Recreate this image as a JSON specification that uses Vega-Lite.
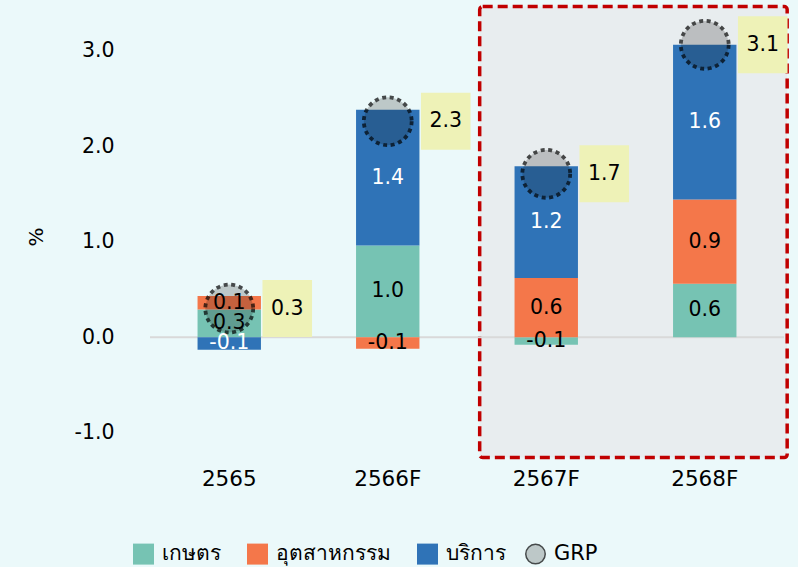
{
  "$schema": "https://vega.github.io/schema/vega-lite/v6.json",
  "width": 634,
  "height": 451,
  "autosize": {"type": "none"},
  "padding": {"left": 150, "top": 6.6, "right": 14, "bottom": 109.4},
  "background": "#EBF9FA",
  "config": {
    "view": {"stroke": null},
    "font": "DejaVu Sans",
    "text": {"font": "DejaVu Sans"},
    "locale": {"number": {"decimal": ".", "thousands": ",", "grouping": [3], "currency": ["$", ""], "minus": "-"}}
  },
  "datasets": {
    "bars": [
      {"year": "2565", "sector": "เกษตร", "ord": 1, "value": 0.29},
      {"year": "2565", "sector": "อุตสาหกรรม", "ord": 2, "value": 0.14},
      {"year": "2565", "sector": "บริการ", "ord": 3, "value": -0.13},
      {"year": "2566F", "sector": "เกษตร", "ord": 1, "value": 0.96},
      {"year": "2566F", "sector": "อุตสาหกรรม", "ord": 2, "value": -0.12},
      {"year": "2566F", "sector": "บริการ", "ord": 3, "value": 1.42},
      {"year": "2567F", "sector": "เกษตร", "ord": 1, "value": -0.08},
      {"year": "2567F", "sector": "อุตสาหกรรม", "ord": 2, "value": 0.62},
      {"year": "2567F", "sector": "บริการ", "ord": 3, "value": 1.17},
      {"year": "2568F", "sector": "เกษตร", "ord": 1, "value": 0.56},
      {"year": "2568F", "sector": "อุตสาหกรรม", "ord": 2, "value": 0.88},
      {"year": "2568F", "sector": "บริการ", "ord": 3, "value": 1.62}
    ],
    "grp": [
      {"year": "2565", "series": "GRP", "grp": 0.30},
      {"year": "2566F", "series": "GRP", "grp": 2.26},
      {"year": "2567F", "series": "GRP", "grp": 1.71},
      {"year": "2568F", "series": "GRP", "grp": 3.06}
    ],
    "hl": [{"x1": 2.08, "x2": 4.02, "y1": 3.46, "y2": -1.26}],
    "zero": [{"y": 0}]
  },
  "layer": [
    {
      "data": {"name": "hl"},
      "mark": {"type": "rect", "fill": "#E8EDEF", "stroke": "#C00000", "strokeWidth": 3.5, "strokeDash": [10, 5], "cornerRadius": 3, "clip": false},
      "encoding": {
        "x": {"field": "x1", "type": "quantitative", "scale": {"domain": [0, 4], "nice": false, "zero": false}, "axis": null},
        "x2": {"field": "x2"},
        "y": {"field": "y1", "type": "quantitative", "scale": {"domain": [-1.26, 3.46], "nice": false, "zero": false},
          "axis": {"values": [-1, 0, 1, 2, 3], "format": ".1f", "grid": false, "domain": false, "ticks": false,
            "labelFontSize": 20.5, "labelColor": "black", "labelPadding": 36,
            "title": "%", "titleFontSize": 20, "titleFontWeight": "normal", "titleColor": "black", "titleX": -104, "titleY": 230}},
        "y2": {"field": "y2"}
      }
    },
    {
      "layer": [
        {
          "data": {"name": "zero"},
          "mark": {"type": "rule", "color": "#D9D9D9", "strokeWidth": 2},
          "encoding": {"y": {"field": "y", "type": "quantitative", "title": "%"}}
        },
        {
          "data": {"name": "bars"},
          "mark": {"type": "bar"},
          "encoding": {
            "x": {"field": "year", "type": "nominal", "sort": null,
              "scale": {"paddingInner": 0.6, "paddingOuter": 0.3},
              "axis": {"title": null, "domain": false, "ticks": false, "labelFontSize": 21.5, "labelColor": "black", "labelPadding": 11, "labelAngle": 0}},
            "y": {"field": "value", "type": "quantitative", "stack": "zero", "title": "%"},
            "color": {"field": "sector", "type": "nominal",
              "scale": {"domain": ["เกษตร", "อุตสาหกรรม", "บริการ"], "range": ["#76C3B3", "#F4774A", "#2F73B7"]},
              "legend": {"orient": "none", "legendX": -17, "legendY": 537, "direction": "horizontal", "title": null,
                "symbolType": "square", "symbolSize": 441, "symbolStrokeWidth": 0, "labelFontSize": 21, "labelColor": "black",
                "columnPadding": 26, "labelOffset": 8}},
            "order": {"field": "ord", "type": "quantitative"}
          }
        },
        {
          "data": {"name": "grp"},
          "mark": {"type": "point", "shape": "circle", "size": 2290, "filled": true, "fill": "rgba(20,20,20,0.3)",
            "stroke": "black", "strokeOpacity": 1, "strokeWidth": 3.8, "strokeDash": [4, 3.6]},
          "encoding": {
            "x": {"field": "year", "type": "nominal", "sort": null},
            "y": {"field": "grp", "type": "quantitative", "title": "%"},
            "shape": {"field": "series", "type": "nominal", "scale": {"range": ["circle"]},
              "legend": {"orient": "none", "legendX": 375, "legendY": 537, "title": null, "symbolSize": 380,
                "labelFontSize": 21, "labelColor": "black", "labelOffset": 8}}
          }
        },
        {
          "data": {"name": "bars"},
          "mark": {"type": "text", "fontSize": 20.5, "baseline": "middle"},
          "encoding": {
            "x": {"field": "year", "type": "nominal", "sort": null},
            "y": {"field": "value", "type": "quantitative", "stack": "zero", "bandPosition": 0.5, "title": "%"},
            "detail": {"field": "sector"},
            "order": {"field": "ord", "type": "quantitative"},
            "text": {"field": "value", "type": "quantitative", "format": ".1f"},
            "color": {"condition": {"test": "datum.sector === 'บริการ'", "value": "white"}, "value": "black"}
          }
        },
        {
          "data": {"name": "grp"},
          "mark": {"type": "point", "shape": "M -0.87 -1 L 0.87 -1 L 0.87 1 L -0.87 1 Z", "size": 3249, "filled": true,
            "fill": "#EEF2B7", "opacity": 1, "strokeWidth": 0, "xOffset": 58},
          "encoding": {
            "x": {"field": "year", "type": "nominal", "sort": null},
            "y": {"field": "grp", "type": "quantitative", "title": "%"}
          }
        },
        {
          "data": {"name": "grp"},
          "mark": {"type": "text", "fontSize": 20.5, "baseline": "middle", "color": "black", "dx": 58},
          "encoding": {
            "x": {"field": "year", "type": "nominal", "sort": null},
            "y": {"field": "grp", "type": "quantitative", "title": "%"},
            "text": {"field": "grp", "type": "quantitative", "format": ".1f"}
          }
        }
      ]
    }
  ],
  "resolve": {"scale": {"x": "independent"}}
}
